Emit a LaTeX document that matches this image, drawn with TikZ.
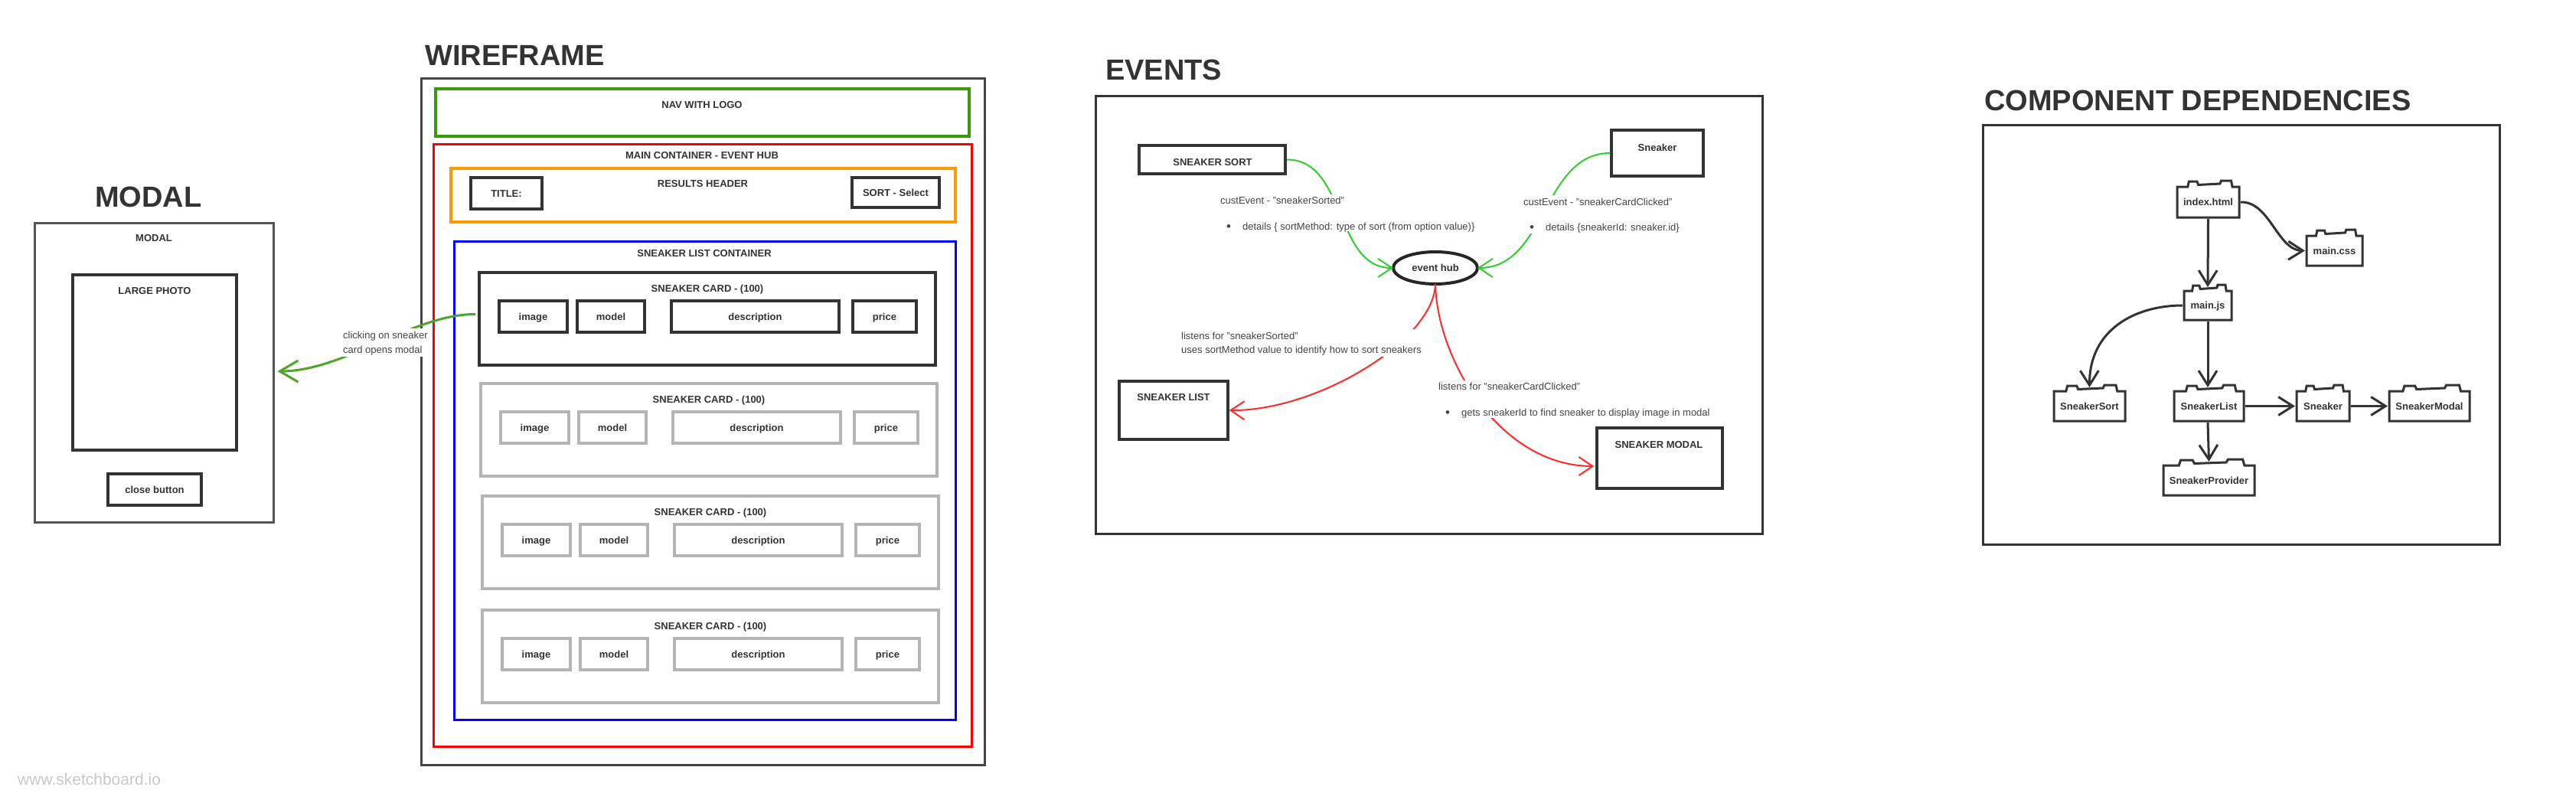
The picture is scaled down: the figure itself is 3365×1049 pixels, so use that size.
\documentclass[tikz,border=0pt]{standalone}
\usepackage{fontspec}
\setmainfont{Liberation Sans}
\usetikzlibrary{arrows.meta,calc,shapes.geometric}
\definecolor{ink}{HTML}{333333}
\definecolor{frm}{HTML}{444444}
\definecolor{notec}{HTML}{444444}
\definecolor{cardgray}{HTML}{B4B4B4}
\definecolor{navgreen}{HTML}{3A9A0E}
\definecolor{orng}{HTML}{FF9900}
\definecolor{evgreen}{HTML}{33CC33}
\definecolor{evred}{HTML}{FF2A2A}
\definecolor{clickgreen}{HTML}{4EA52A}
\definecolor{wmc}{HTML}{C8C8C8}
\newcommand\mybx[7][]{\node[#1, minimum width={(#5)-(#3)}, minimum height={(#6)-(#4)}] (#2) at ({((#3)+(#5))/2},{((#4)+(#6))/2}) {#7};}
\newcommand\sneakcard[4]{%
 \mybx[#4,line width=4pt]{#1}{626+#3}{#2}{1222+#3}{#2+121}{}
 \node[lbl] (#1t) at ({924+#3},{#2+21}) {SNEAKER CARD - (100)};
 \mybx[#4]{#1a}{652+#3}{#2+37}{741+#3}{#2+78}{image}
 \mybx[#4]{#1b}{754+#3}{#2+37}{842+#3}{#2+78}{model}
 \mybx[#4]{#1c}{877+#3}{#2+37}{1096+#3}{#2+78}{description}
 \mybx[#4]{#1d}{1114+#3}{#2+37}{1197+#3}{#2+78}{price}}
\newcommand\comp[6]{%
 \mybx[compb]{#1}{#2}{#3}{#4}{#5}{#6}
 \draw[compl] (#1.south west) -- (#1.north west)
   -- ($(#1.north west)!0.17!(#1.north east)$)
   -- ($(#1.north west)!0.19!(#1.north east)+(0,-7)$)
   -- ($(#1.north west)!0.32!(#1.north east)+(0,-7)$)
   -- ($(#1.north west)!0.34!(#1.north east)+(0,-2.5)$)
   -- ($(#1.north west)!0.69!(#1.north east)+(0,-4)$)
   -- ($(#1.north west)!0.71!(#1.north east)+(0,-8)$)
   -- ($(#1.north west)!0.87!(#1.north east)+(0,-8)$)
   -- ($(#1.north west)!0.89!(#1.north east)$)
   -- (#1.north east) -- (#1.south east) -- cycle;}
\newcommand\bul{{\fontsize{17}{17}\selectfont\raisebox{-1.2pt}{\textbullet}}}
\begin{document}
\begin{tikzpicture}[x=1pt,y=-1pt,
  lbl/.style={inner sep=0pt, text height=9.3pt, text depth=0pt, font=\fontsize{13}{15}\selectfont\bfseries, text=ink},
  note/.style={inner sep=0pt, text height=9.3pt, text depth=0pt, font=\fontsize{13}{15}\selectfont, text=notec, anchor=west},
  ttl/.style={inner sep=0pt, text height=27.2pt, text depth=0pt, font=\fontsize{38}{40}\selectfont\bfseries, text=ink, anchor=west},
  wbox/.style={draw=ink, line width=3.5pt, inner sep=0pt, font=\fontsize{13}{15}\selectfont\bfseries, text=ink, text height=9.3pt, text depth=0pt},
  gbox/.style={wbox, draw=cardgray},
  framebox/.style={draw=frm, line width=3pt, inner sep=0pt},
  navb/.style={draw=navgreen, line width=3.5pt, inner sep=0pt},
  redb/.style={draw=red, line width=3pt, inner sep=0pt},
  orb/.style={draw=orng, line width=3.5pt, inner sep=0pt},
  blueb/.style={draw=blue, line width=3pt, inner sep=0pt},
  mask/.style={fill=white, draw=none, inner sep=0pt},
  hubst/.style={ellipse, draw=black!85, line width=4pt, minimum width=110pt, minimum height=42pt, inner sep=0pt, outer sep=0pt, font=\fontsize{13}{15}\selectfont\bfseries, text=ink, text height=9.3pt, text depth=0pt},
  compb/.style={draw=none, fill=white, inner sep=0pt, outer sep=0pt, font=\fontsize{13}{15}\selectfont\bfseries, text=ink, text height=9.3pt, text depth=0pt},
  compl/.style={draw=ink, line width=3pt},
  clk/.style={draw=clickgreen, line width=3pt, -{Straight Barb[length=24pt,width=28pt]}},
  evg/.style={draw=evgreen, line width=2pt, -{Straight Barb[length=18pt,width=24pt]}},
  evr/.style={draw=evred, line width=2pt, -{Straight Barb[length=18pt,width=24pt]}},
  dep/.style={draw=ink, line width=3pt, -{Straight Barb[length=19pt,width=24pt]}}
]
\useasboundingbox (0,0) rectangle (3365,1049);
\fill[white] (0,0) rectangle (3365,1049);

% ---------------- MODAL ----------------
\node[ttl] (tmodal) at (124,257) {MODAL};
\mybx[framebox, draw=black!67]{modal}{45}{291}{357}{682}{}
\node[lbl] (modall) at (201,311) {MODAL};
\mybx[wbox]{photo}{95}{359}{309}{588}{}
\node[lbl] (photol) at (202,380) {LARGE PHOTO};
\mybx[wbox]{closeb}{141}{619}{263}{660}{close button}

% ---------------- WIREFRAME ----------------
\node[ttl] (twire) at (555,71.5) {WIREFRAME};
\mybx[framebox]{wire}{550}{102}{1286}{999}{}
\mybx[navb]{nav}{569}{116}{1266}{178}{}
\node[lbl] (navl) at (917,137) {NAV WITH LOGO};
\mybx[redb]{mainc}{566}{188}{1269}{975}{}
\node[lbl] (mainl) at (917,203) {MAIN CONTAINER - EVENT HUB};
\mybx[orb]{results}{589}{220}{1248}{290}{}
\node[lbl] (resl) at (918,240) {RESULTS HEADER};
\mybx[wbox]{titleb}{615}{232}{708}{273}{TITLE:}
\mybx[wbox]{sortb}{1113}{232}{1227}{271}{SORT - Select}
\mybx[blueb]{slc}{593}{315}{1248}{940}{}
\node[lbl] (slcl) at (920,331) {SNEAKER LIST CONTAINER};
\sneakcard{ca}{356}{0}{wbox}
\sneakcard{cb}{501}{2}{gbox}
\sneakcard{cc}{648}{4}{gbox}
\sneakcard{cd}{797}{4}{gbox}

% click arrow to modal
\draw[clk] ($(ca.west)+(-3,-6)$) .. controls (540,410) and (450,485) .. ($(modal.east)+(4,-1.5)$);
\mybx[mask]{m0}{446}{429}{560}{466}{}
\node[note] (n0a) at (448,438) {clicking on sneaker};
\node[note] (n0b) at (448,457) {card opens modal};

% ---------------- EVENTS ----------------
\node[ttl] (tev) at (1444,90.5) {EVENTS};
\mybx[framebox, draw=ink]{evf}{1431}{125}{2302}{697}{}
\mybx[wbox]{ssort}{1488}{190}{1679}{227}{}
\node[lbl] (ssortl) at (1584,212) {SNEAKER SORT};
\mybx[wbox]{sneakerev}{2105}{170}{2225}{230}{}
\node[lbl] (sneakerevl) at (2165,193) {Sneaker};
\node[hubst] (hub) at (1875,350) {event hub};
\mybx[wbox]{slist}{1462}{498}{1604}{574}{}
\node[lbl] (slistl) at (1533,519) {SNEAKER LIST};
\mybx[wbox]{smodal}{2086}{559}{2250}{638}{}
\node[lbl] (smodall) at (2167,581) {SNEAKER MODAL};
\coordinate (mtip) at ($(smodal.west)+(-2,10.5)$);

\draw[evg] (ssort.east) .. controls (1759,208) and (1743,350) .. (hub.west);
\draw[evg] (sneakerev.west) .. controls (2015,200) and (2020,350) .. (hub.east);
\draw[evr] (hub.south) .. controls (1873,445) and (1720,537) .. (slist.east);
\draw[evr] (hub.south) .. controls (1877,470) and (1960,609) .. (mtip);

\mybx[mask]{m1}{1590}{254}{1926}{302}{}
\node[note] (n1a) at (1594,262) {custEvent - "sneakerSorted"};
\node[note] (n1b) at (1602,296) {\bul\hspace{15pt}details \{ sortMethod: type of sort (from option value)\}};
\mybx[mask]{m2}{1986}{255}{2196}{305}{}
\node[note] (n2a) at (1990,264) {custEvent - "sneakerCardClicked"};
\node[note] (n2b) at (1998,297) {\bul\hspace{15pt}details \{sneakerId: sneaker.id\}};
\mybx[mask]{m3}{1540}{430}{1857}{466}{}
\node[note] (n3a) at (1543,439) {listens for "sneakerSorted"};
\node[note] (n3b) at (1543,457) {uses sortMethod value to identify how to sort sneakers};
\mybx[mask]{m4}{1876}{497}{2234}{546}{}
\node[note] (n4a) at (1879,505) {listens for "sneakerCardClicked"};
\node[note] (n4b) at (1888,539) {\bul\hspace{15pt}gets sneakerId to find sneaker to display image in modal};

% ---------------- COMPONENT DEPENDENCIES ----------------
\node[ttl] (tcomp) at (2592,131) {COMPONENT DEPENDENCIES};
\mybx[framebox, draw=ink]{cdf}{2590}{163}{3265}{711}{}
\comp{index}{2844}{244}{2925}{284}{index.html}
\comp{maincss}{3013}{308}{3086}{347}{main.css}
\comp{mainjs}{2853}{380}{2915}{418}{main.js}
\comp{ssortc}{2683}{511}{2776}{550}{SneakerSort}
\comp{slistc}{2840}{511}{2931}{550}{SneakerList}
\comp{sneakc}{3000}{511}{3069}{550}{Sneaker}
\comp{smodc}{3121}{511}{3226}{550}{SneakerModal}
\comp{sprov}{2826}{608}{2945}{647}{SneakerProvider}

\draw[dep] ($(index.south)+(0,2)$) -- ($(mainjs.north)+(0,-5)$);
\draw[dep] ($(index.east)+(2,0)$) .. controls (2965,263) and (2975,327) .. ($(maincss.west)+(-2,0)$);
\draw[dep] ($(mainjs.west)+(-2,0)$) .. controls (2790,399) and (2729,430) .. ($(ssortc.north)+(0,-5)$);
\draw[dep] ($(mainjs.south)+(0,2)$) -- ($(slistc.north)+(-1.5,-5)$);
\draw[dep] ($(slistc.east)+(2,0)$) -- ($(sneakc.west)+(-2,0)$);
\draw[dep] ($(sneakc.east)+(2,0)$) -- ($(smodc.west)+(-2,0)$);
\draw[dep] ($(slistc.south)+(-1.5,2)$) -- ($(sprov.north)+(0,-5)$);

% watermark
\node[anchor=base west, inner sep=0pt, font=\fontsize{21}{24}\selectfont, text=wmc] (wmk) at (23,1025) {www.sketchboard.io};
\end{tikzpicture}
\end{document}
